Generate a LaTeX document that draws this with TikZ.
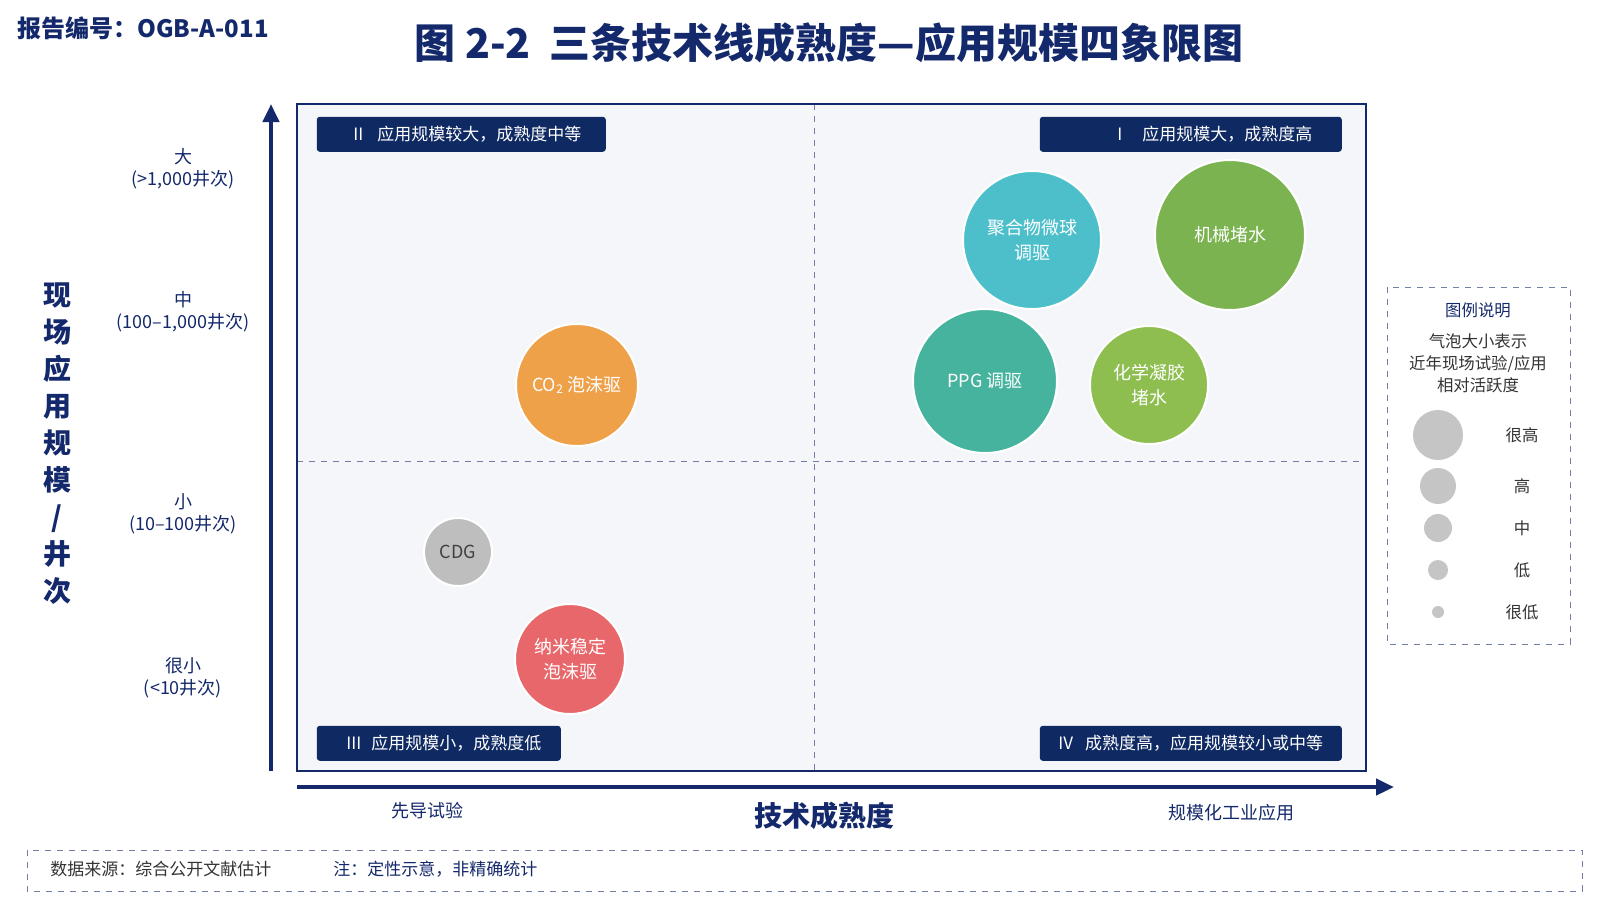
\documentclass[tikz,border=0pt]{standalone}
\usepackage{fontspec}
\setmainfont{Noto Sans CJK SC}
\usetikzlibrary{
    arrows.meta,
    calc,
    positioning
}
\definecolor{navy}{HTML}{14296B}
\definecolor{labelbg}{HTML}{0F2A63}
\definecolor{plotbg}{HTML}{F4F6FA}
\definecolor{cteal}{HTML}{4DBFCB}
\definecolor{cgreen}{HTML}{7AB34F}
\definecolor{cppg}{HTML}{45B39D}
\definecolor{cchem}{HTML}{8DBE4F}
\definecolor{corange}{HTML}{EFA14A}
\definecolor{cgray}{HTML}{BEBEBE}
\definecolor{cred}{HTML}{E8676B}
\tikzset{
    every picture/.style = {
        > = Stealth,
        thick
    },
    quadlabel/.style = {
        fill = labelbg,
        text = white,
        font = \fontsize{8.5}{10}\selectfont,
        rounded corners = 1.5pt,
        inner sep = 0pt,
        minimum height = 17.5pt,
        anchor = north west
    },
    bubble/.style args = {#1/#2}{
        circle,
        fill = #1,
        draw = white,
        line width = 1pt,
        minimum size = #2,
        inner sep = 0pt,
        align = center,
        text = white,
        font = \fontsize{9}{12.5}\selectfont
    },
    ylab/.style = {
        align = center,
        text = navy,
        font = \fontsize{9}{11}\selectfont
    },
    legdot/.style = {
        circle,
        fill = cgray!90,
        inner sep = 0pt,
        minimum size = #1
    },
    legtext/.style = {
        font = \fontsize{8.2}{10}\selectfont,
        text = black!80
    }
}

\begin{document}
\begin{tikzpicture}[x = 0.5pt, y = -0.5pt]
    \useasboundingbox (0,0) rectangle (1600,900);

    % header
    \node[anchor = west, text = navy, font = \fontsize{12}{13}\selectfont\bfseries] (report) at (10,28) {报告编号：OGB-A-011};
    \node[text = navy, font = \fontsize{20.5}{22}\selectfont\bfseries] (title) at (829,43) {图 2-2\ \ 三条技术线成熟度—应用规模四象限图};

    % plot area
    \fill[plotbg] (297,104) rectangle (1366,771);
    \draw[navy!60, dashed, thin] (814,104) -- (814,771);
    \draw[navy!60, dashed, thin] (297,461) -- (1366,461);
    \draw[navy, line width = 1pt] (297,104) rectangle (1366,771);

    % axes
    \coordinate (ybot) at (271,771);
    \coordinate (ytop) at (271,104);
    \coordinate (xleft) at (297,787);
    \coordinate (xright) at (1394,787);
    \draw[navy, line width = 2.2pt, -{Triangle[length = 9pt, width = 8pt]}] (ybot) -- (ytop);
    \draw[navy, line width = 2.2pt, -{Triangle[length = 9pt, width = 8pt]}] (xleft) -- (xright);

    % quadrant labels
    \node[quadlabel, minimum width = 144.5pt] (q2) at (316,116) {\hspace{6pt}II\hspace{7pt}应用规模较大，成熟度中等\hfill};
    \node[quadlabel, minimum width = 151pt] (q1) at (1039,116) {\hspace{24pt}I\hspace{10pt}应用规模大，成熟度高};
    \node[quadlabel, minimum width = 122pt] (q3) at (316,725) {\hspace{5pt}III\hspace{5pt}应用规模小，成熟度低\hspace{6pt}};
    \node[quadlabel, minimum width = 151pt] (q4) at (1039,725) {IV\hspace{6pt}成熟度高，应用规模较小或中等};

    % bubbles
    \node[bubble = cteal/69pt] (polymer) at (1032,240) {聚合物微球\\调驱};
    \node[bubble = cgreen/75pt] (mech) at (1230,235) {机械堵水};
    \node[bubble = cppg/72pt] (ppg) at (985,381) {PPG 调驱};
    \node[bubble = cchem/59pt] (chem) at (1149,385) {化学凝胶\\堵水};
    \node[bubble = corange/61pt] (co2) at (577,385) {CO\textsubscript{2} 泡沫驱};
    \node[bubble = cgray/34pt, text = black!75] (cdg) at (458,552) {CDG};
    \node[bubble = cred/55pt] (nano) at (570,659) {纳米稳定\\泡沫驱};

    % y labels
    \node[ylab] (ybig) at (183,169) {大\\(>1,000井次)};
    \node[ylab] (ymid) at (183,312) {中\\(100–1,000井次)};
    \node[ylab] (ysmall) at (183,514) {小\\(10–100井次)};
    \node[ylab] (ytiny) at (183,678) {很小\\(<10井次)};
    \node[text = navy, align = center, font = \fontsize{14}{18.5}\selectfont\bfseries] (ytitle) at (57,444) {现\\场\\应\\用\\规\\模\\/\\井\\次};

    % x labels
    \node[ylab] (xlow) at (427,811) {先导试验};
    \node[text = navy, font = \fontsize{14}{16}\selectfont\bfseries] (xtitle) at (824,816) {技术成熟度};
    \node[ylab] (xhigh) at (1231,813) {规模化工业应用};

    % legend
    \draw[navy!60, dashed, thin] (1387,287) rectangle (1570,644);
    \node[text = navy, font = \fontsize{8.2}{10}\selectfont] (legtitle) at (1478,310) {图例说明};
    \node[legtext, align = center, font = \fontsize{8.2}{11}\selectfont] (legdesc) at (1478,363) {气泡大小表示\\近年现场试验/应用\\相对活跃度};
    \foreach \y/\d/\t [count = \i] in {435/25pt/很高, 486/18pt/高, 528/14pt/中, 570/10pt/低, 612/6pt/很低} {
        \node[legdot = \d] (dot\i) at (1438,\y) {};
        \node[legtext] (lab\i) at (1522,\y) {\t};
    }

    % footer
    \draw[navy!60, dashed, thin] (27,850) rectangle (1582,891);
    \node[anchor = west, legtext, font = \fontsize{8.5}{10}\selectfont] (src) at (43,869) {数据来源：综合公开文献估计};
    \node[anchor = west, legtext, text = navy, font = \fontsize{8.5}{10}\selectfont] (note) at (326,869) {注：定性示意，非精确统计};
\end{tikzpicture}
\end{document}
